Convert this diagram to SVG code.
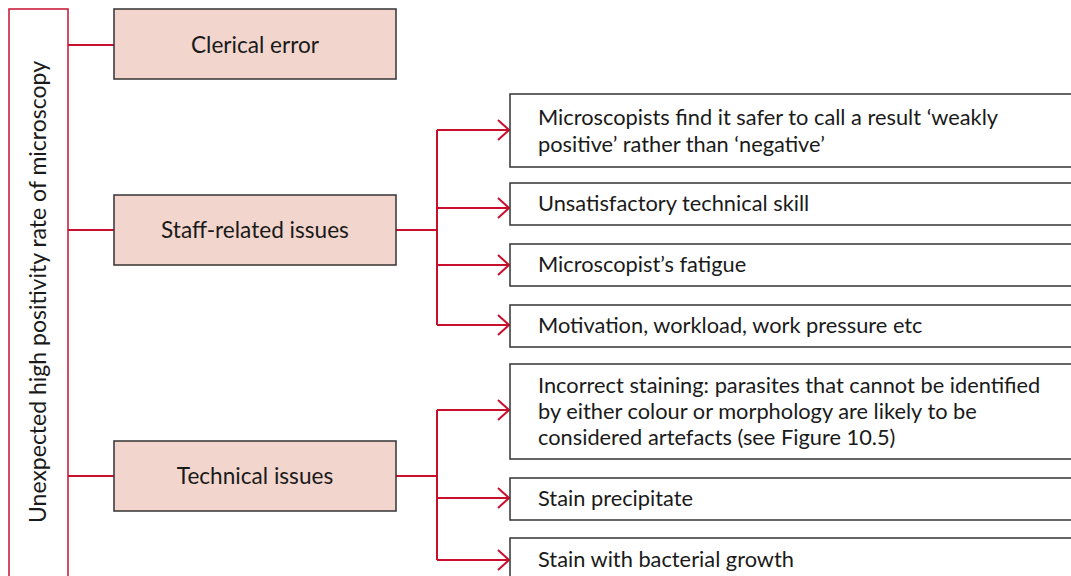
<svg xmlns="http://www.w3.org/2000/svg" width="1071" height="576" viewBox="0 0 1071 576">
<style>
text{font-family:"Lato","Liberation Sans",sans-serif;font-size:21.8px;fill:#1a1a1a}
.main{fill:#f2d5cc;stroke:#333;stroke-width:1.5}
.leaf{fill:#fff;stroke:#333;stroke-width:1.5}
.root{fill:#fff;stroke:#c8102e;stroke-width:1.5}
.c{fill:none;stroke:#c8102e;stroke-width:2}
.m{text-anchor:middle;font-size:22.6px}
.r{text-anchor:middle;font-size:23px}
</style>
<defs>
<marker id="arr" markerWidth="14" markerHeight="22" refX="12" refY="11" orient="auto" markerUnits="userSpaceOnUse">
<path d="M1,1 L12,11 L1,21" fill="none" stroke="#c8102e" stroke-width="2"/>
</marker>
</defs>
<g id="root">
<rect class="root" x="9" y="9" width="59" height="580"/>
<text class="r" transform="translate(46,292) rotate(-90)">Unexpected high positivity rate of microscopy</text>
</g>
<g id="connectors">
<path class="c" d="M68,45 H114"/>
<path class="c" d="M68,230 H114"/>
<path class="c" d="M68,476 H114"/>
<path class="c" d="M396,230 H437"/>
<path class="c" d="M437,130 V325"/>
<path class="c" d="M437,130 H509" marker-end="url(#arr)"/>
<path class="c" d="M437,208 H509" marker-end="url(#arr)"/>
<path class="c" d="M437,265 H509" marker-end="url(#arr)"/>
<path class="c" d="M437,325 H509" marker-end="url(#arr)"/>
<path class="c" d="M396,476 H437"/>
<path class="c" d="M437,410 V560"/>
<path class="c" d="M437,410 H509" marker-end="url(#arr)"/>
<path class="c" d="M437,498 H509" marker-end="url(#arr)"/>
<path class="c" d="M437,560 H509" marker-end="url(#arr)"/>
</g>
<g id="clerical"><rect class="main" x="114" y="9" width="282" height="70"/><text class="m" x="255" y="53">Clerical error</text></g>
<g id="staff"><rect class="main" x="114" y="195" width="282" height="70"/><text class="m" x="255" y="238">Staff-related issues</text></g>
<g id="technical"><rect class="main" x="114" y="441" width="282" height="70"/><text class="m" x="255" y="484">Technical issues</text></g>
<g id="s1"><rect class="leaf" x="510" y="94" width="580" height="73"/><text x="538" y="125">Microscopists find it safer to call a result ‘weakly</text><text x="538" y="152">positive’ rather than ‘negative’</text></g>
<g id="s2"><rect class="leaf" x="510" y="183" width="580" height="42"/><text x="538" y="211">Unsatisfactory technical skill</text></g>
<g id="s3"><rect class="leaf" x="510" y="244" width="580" height="42"/><text x="538" y="272">Microscopist’s fatigue</text></g>
<g id="s4"><rect class="leaf" x="510" y="305" width="580" height="42"/><text x="538" y="333">Motivation, workload, work pressure etc</text></g>
<g id="t1"><rect class="leaf" x="510" y="364" width="580" height="95"/><text x="538" y="393">Incorrect staining: parasites that cannot be identified</text><text x="538" y="419">by either colour or morphology are likely to be</text><text x="538" y="445">considered artefacts (see Figure 10.5)</text></g>
<g id="t2"><rect class="leaf" x="510" y="478" width="580" height="42"/><text x="538" y="506">Stain precipitate</text></g>
<g id="t3"><rect class="leaf" x="510" y="538" width="580" height="42"/><text x="538" y="567">Stain with bacterial growth</text></g>
</svg>
